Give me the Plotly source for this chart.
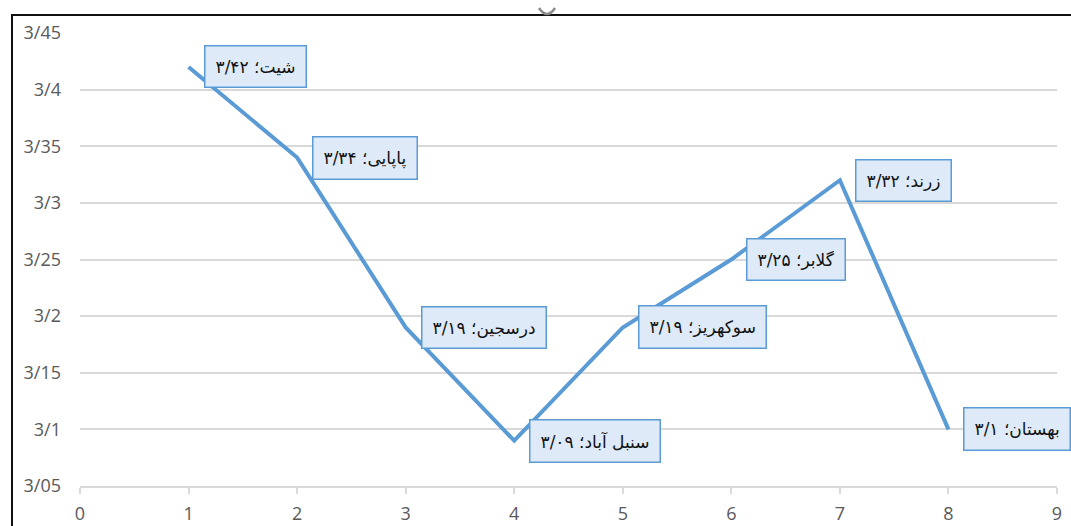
import plotly.graph_objects as go

# Station values along the profile
stations = ["شیت", "پاپایی", "درسجین", "سنبل آباد", "سوکهریز", "گلابر", "زرند", "بهستان"]
positions = [1, 2, 3, 4, 5, 6, 7, 8]
values = [3.42, 3.34, 3.19, 3.09, 3.19, 3.25, 3.32, 3.10]
value_labels = ["۳/۴۲", "۳/۳۴", "۳/۱۹", "۳/۰۹", "۳/۱۹", "۳/۲۵", "۳/۳۲", "۳/۱"]

y_ticks = [3.05, 3.10, 3.15, 3.20, 3.25, 3.30, 3.35, 3.40, 3.45]
y_tick_text = ["3/05", "3/1", "3/15", "3/2", "3/25", "3/3", "3/35", "3/4", "3/45"]
x_ticks = list(range(0, 10))

W, H = 1071, 526
L, R, T, B = 80, 14, 33, 40

fig = go.Figure()
fig.add_trace(go.Scatter(
    x=positions, y=values, mode="lines",
    line=dict(color="#5b9bd5", width=4),
    hoverinfo="skip", showlegend=False,
))

for xv, yv, name, lab in zip(positions, values, stations, value_labels):
    fig.add_annotation(
        x=xv, y=yv, xref="x", yref="y",
        text=f"{name}؛ {lab}", showarrow=False,
        xanchor="left", yanchor="middle", xshift=15,
        font=dict(family="DejaVu Sans", size=17, color="#111111"),
        bgcolor="#deeaf7", bordercolor="#5b9bd5", borderwidth=1.5, borderpad=10,
    )

pw = W - L - R
ph = H - T - B

def px_x(p):
    return (p - L) / pw

def px_y(p):
    return (H - B - p) / ph

shapes = [
    dict(type="line", xref="paper", yref="paper",
         x0=px_x(12), x1=px_x(12), y0=px_y(15), y1=px_y(530),
         line=dict(color="#111111", width=2)),
    dict(type="line", xref="paper", yref="paper",
         x0=px_x(11), x1=px_x(1075), y0=px_y(15), y1=px_y(15),
         line=dict(color="#111111", width=2)),
    dict(type="path", xref="paper", yref="paper",
         path=f"M {px_x(539)} {px_y(8)} Q {px_x(547)} {px_y(20)} {px_x(555)} {px_y(8)}",
         line=dict(color="#8c8c8c", width=2.5)),
]

fig.update_layout(
    width=W, height=H,
    margin=dict(l=L, r=R, t=T, b=B),
    paper_bgcolor="white", plot_bgcolor="white",
    shapes=shapes,
    xaxis=dict(
        range=[0, 9], tickvals=x_ticks, showgrid=False, zeroline=False,
        showline=True, linecolor="#d9d9d9", linewidth=1.5,
        ticks="outside", ticklen=6, tickcolor="#d9d9d9", tickwidth=1.5,
        ticklabelstandoff=5, automargin=False,
        tickfont=dict(family="Open Sans", size=18, color="#595959"),
        fixedrange=True,
    ),
    yaxis=dict(
        range=[3.05, 3.45], tickvals=y_ticks, ticktext=y_tick_text,
        showgrid=True, gridcolor="#d9d9d9", gridwidth=1.5, zeroline=False,
        showline=False, ticks="", ticklabelstandoff=18, automargin=False,
        tickfont=dict(family="Open Sans", size=18, color="#595959"),
        fixedrange=True,
    ),
)

fig.write_html("out.html")
